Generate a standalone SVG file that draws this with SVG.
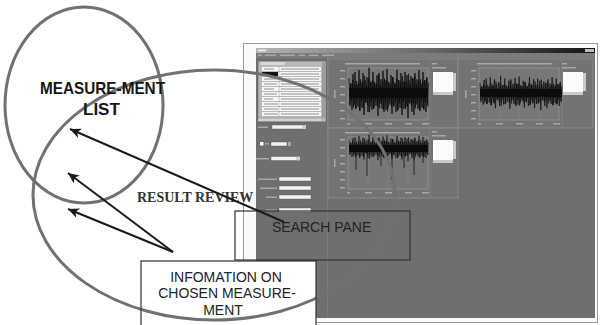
<svg xmlns="http://www.w3.org/2000/svg" xmlns:xlink="http://www.w3.org/1999/xlink" width="600" height="325" viewBox="0 0 600 325">
<defs>
<style>
.ell{fill:none;stroke:#717171;stroke-width:3}
.box{fill:none;stroke:#333;stroke-width:1.2}
.bold{font-family:"Liberation Sans",Arial,sans-serif;font-weight:bold;font-size:17px;fill:#151515}
.serif{font-family:"Liberation Serif","Times New Roman",serif;font-weight:bold;font-size:14px;fill:#333}
.lbl{font-family:"Liberation Sans",Arial,sans-serif;font-size:14px;fill:#222}
.conn{stroke:#1a1a1a;stroke-width:2;fill:none;marker-end:url(#ah)}
.panel{fill:#737376;stroke:#8e8e90;stroke-width:0.8}
.plot{fill:#77777a;stroke:#a0a0a2;stroke-width:0.6}
.field{fill:#f2f2f2;stroke:#555;stroke-width:0.4}
.wave{fill:none;stroke:#0c0c0c;stroke-width:0.8}
.tiny{fill:#a8a8aa}
</style>
<linearGradient id="tb" x1="0" y1="0" x2="1" y2="0">
<stop offset="0" stop-color="#b4b4b4"/>
<stop offset="0.5" stop-color="#6a6a6a"/>
<stop offset="1" stop-color="#141414"/>
</linearGradient>
<marker id="ah" markerUnits="userSpaceOnUse" markerWidth="12" markerHeight="12" refX="11" refY="5" orient="auto" viewBox="0 0 12 10">
<path d="M11,5 L0,0 L3,5 L0,10 Z" fill="#1a1a1a"/>
</marker>
<path id="wave" class="wave" d="M0,-14 L1,12 L2,-9 L3,16 L4,-18 L5,11 L6,-20 L7,15 L8,-8 L9,13 L10,-22 L11,17 L12,-10 L13,14 L14,-19 L15,21 L16,-12 L17,9 L18,-15 L19,18 L20,-24 L21,13 L22,-11 L23,16 L24,-20 L25,14 L26,-9 L27,12 L28,-17 L29,22 L30,-19 L31,10 L32,-13 L33,15 L34,-21 L35,18 L36,-12 L37,16 L38,-23 L39,14 L40,-10 L41,11 L42,-17 L43,20 L44,-15 L45,13 L46,-9 L47,18 L48,-22 L49,16 L50,-12 L51,14 L52,-19 L53,21 L54,-11 L55,15 L56,-20 L57,13 L58,-17 L59,24 L60,-12 L61,10 L62,-16 L63,18 L64,-14 L65,21 L66,-19 L67,11 L68,-13 L69,15 L70,-22 L71,17 L72,-9 L73,14 L74,-20 L75,16 L76,-12 L77,18 L78,-15 L79,13"/>
<g id="plotbox">
<rect class="plot" x="0" y="0" width="80" height="52"/>
<path d="M20,0 V52 M40,0 V52 M60,0 V52" stroke="#8a8a8c" stroke-width="0.5"/>
<rect class="tiny" x="-8" y="2" width="5" height="1.5"/>
<rect class="tiny" x="-8" y="10" width="5" height="1.5"/>
<rect class="tiny" x="-8" y="18" width="5" height="1.5"/>
<rect class="tiny" x="-8" y="26" width="5" height="1.5"/>
<rect class="tiny" x="-8" y="34" width="5" height="1.5"/>
<rect class="tiny" x="-8" y="42" width="5" height="1.5"/>
<rect class="tiny" x="-8" y="50" width="5" height="1.5"/>
<rect class="tiny" x="-1" y="55" width="3" height="1.5"/>
<rect class="tiny" x="17" y="55" width="7" height="1.5"/>
<rect class="tiny" x="37" y="55" width="7" height="1.5"/>
<rect class="tiny" x="57" y="55" width="7" height="1.5"/>
<rect class="tiny" x="74" y="55" width="7" height="1.5"/>
<rect class="tiny" x="-14" y="22" width="1.5" height="8"/>
</g>
<g id="legend">
<rect x="0" y="0" width="20" height="20" fill="#fbfbfb"/>
<rect x="20" y="1" width="3" height="18" fill="#c9c9c9"/>
<rect x="0" y="20" width="20" height="3" fill="#c9c9c9"/>
<rect x="-1" y="-9" width="5" height="1.5" class="tiny"/>
<rect x="-1" y="-5" width="14" height="1.5" class="tiny"/>
</g>
</defs>
<rect width="600" height="325" fill="#ffffff"/>

<g id="screenshot">
<rect x="243.5" y="43.5" width="354" height="279" fill="#fafafa" stroke="#9a9a9a" stroke-width="1"/>
<rect x="256" y="48" width="339" height="270" fill="#6f6f72"/>
<rect x="256" y="48" width="339" height="5" fill="url(#tb)"/>
<rect x="258" y="49.5" width="8" height="2" fill="#e8e8e8"/>
<rect x="585" y="49" width="9" height="3" fill="#bdbdbd"/>
<rect x="256" y="53" width="339" height="5" fill="#7b7b7e"/>
<g class="tiny"><rect x="258" y="54.5" width="4" height="1.5"/><rect x="265" y="54.5" width="11" height="1.5"/><rect x="280" y="54.5" width="15" height="1.5"/><rect x="299" y="54.5" width="6" height="1.5"/><rect x="309" y="54.5" width="9" height="1.5"/><rect x="322" y="54.5" width="12" height="1.5"/></g>
<rect x="258" y="61" width="68" height="61" fill="#b9b9bb" stroke="#555" stroke-width="0.5"/>
<rect x="261" y="62" width="24" height="3" fill="#d8d8d8"/>
<rect x="322" y="62" width="3" height="56" fill="#9b9b9d"/>
<g fill="#f6f6f6">
<rect x="262" y="67" width="59" height="4"/><rect x="262" y="72" width="59" height="4"/><rect x="262" y="77" width="59" height="4"/>
<rect x="262" y="82" width="59" height="4"/><rect x="262" y="87" width="59" height="4"/><rect x="262" y="92" width="59" height="4"/>
<rect x="262" y="97" width="59" height="4"/><rect x="262" y="102" width="59" height="4"/><rect x="262" y="107" width="59" height="4"/>
<rect x="262" y="112" width="59" height="4"/>
</g>
<rect x="262" y="72" width="16" height="4" fill="#111"/>
<path d="M279,67 V116" stroke="#888" stroke-width="0.4"/>
<g fill="#8d8d8f">
<rect x="264" y="68.5" width="10" height="1"/><rect x="281" y="68.5" width="38" height="1"/>
<rect x="281" y="73.5" width="38" height="1"/><rect x="264" y="78.5" width="12" height="1"/><rect x="281" y="78.5" width="38" height="1"/>
<rect x="264" y="83.5" width="13" height="1"/><rect x="281" y="83.5" width="38" height="1"/><rect x="264" y="88.5" width="10" height="1"/><rect x="281" y="88.5" width="38" height="1"/>
<rect x="264" y="93.5" width="13" height="1"/><rect x="281" y="93.5" width="38" height="1"/><rect x="264" y="98.5" width="9" height="1"/><rect x="281" y="98.5" width="38" height="1"/>
<rect x="264" y="103.5" width="14" height="1"/><rect x="281" y="103.5" width="38" height="1"/><rect x="264" y="108.5" width="14" height="1"/><rect x="281" y="108.5" width="38" height="1"/>
<rect x="264" y="113.5" width="14" height="1"/><rect x="281" y="113.5" width="38" height="1"/>
</g>
<rect x="258" y="118" width="64" height="3.5" fill="#d0d0d0" stroke="#555" stroke-width="0.3"/>
<path d="M327.5,58 V318" stroke="#7f7f82" stroke-width="0.8"/>
<rect class="tiny" x="258" y="126.5" width="10" height="1.5"/>
<rect class="field" x="272" y="125" width="31" height="4"/><rect x="303" y="125" width="3" height="4" fill="#ccc"/>
<rect x="260" y="142" width="3.5" height="3.5" fill="#fff"/>
<rect class="tiny" x="265" y="143" width="4" height="1.5"/>
<rect class="field" x="271" y="142" width="16" height="4"/><rect x="288" y="142" width="3" height="4" fill="#aaa"/>
<rect class="tiny" x="256" y="158" width="13" height="1.5"/>
<rect class="field" x="271" y="156.5" width="26" height="4"/><rect x="297" y="156.5" width="3" height="4" fill="#ccc"/>
<rect class="tiny" x="258" y="178.5" width="19" height="1.5"/>
<rect class="field" x="279" y="177" width="32" height="4"/>
<rect class="tiny" x="260" y="187.5" width="17" height="1.5"/>
<rect class="field" x="279" y="186" width="32" height="4"/>
<rect class="tiny" x="266" y="196.5" width="11" height="1.5"/>
<rect class="field" x="279" y="195" width="32" height="4"/>
<rect class="tiny" x="266" y="209.5" width="11" height="1.5"/>
<rect class="field" x="279" y="208" width="32" height="4"/>
<rect class="panel" x="328" y="59" width="130" height="69"/>
<rect class="panel" x="458" y="59" width="135" height="69"/>
<rect class="panel" x="328" y="128" width="130" height="70"/>
<path d="M430,60 V127 M562,60 V127 M430,129 V197" stroke="#8a8a8c" stroke-width="0.6"/>
<rect class="tiny" x="345" y="63" width="75" height="1.5"/>
<rect class="tiny" x="477" y="63" width="75" height="1.5"/>
<rect class="tiny" x="345" y="132" width="75" height="1.5"/>
<use xlink:href="#plotbox" x="348" y="68"/>
<use xlink:href="#plotbox" x="479" y="68"/>
<use xlink:href="#plotbox" x="348" y="137"/>
<rect x="349" y="88" width="79" height="10" fill="#0c0c0c"/>
<use xlink:href="#wave" transform="translate(349,93) scale(1,1.05)"/>
<use xlink:href="#wave" transform="translate(349.5,93) scale(1,-0.8)"/>
<rect x="480" y="89" width="82" height="8" fill="#0c0c0c"/>
<use xlink:href="#wave" transform="translate(480,93) scale(1.03,0.72)"/>
<use xlink:href="#wave" transform="translate(480.5,93) scale(1.03,-0.55)"/>
<rect x="349" y="145" width="79" height="7" fill="#0c0c0c"/>
<use xlink:href="#wave" transform="translate(349,148) scale(1,0.55)"/>
<use xlink:href="#wave" transform="translate(349.5,148) scale(1,-0.45)"/>
<path d="M356,150 V170 M367,150 V176 M381,150 V166 M392,150 V180 M404,150 V168 M414,150 V175 M423,150 V163" stroke="#111" stroke-width="0.8"/>
<use xlink:href="#legend" x="433" y="72"/>
<use xlink:href="#legend" x="563" y="72"/>
<use xlink:href="#legend" x="433" y="140"/>
</g>

<g id="info-box-fill">
<rect x="141" y="261" width="175" height="66" fill="#ffffff"/>
</g>

<g id="measurement-list">
<ellipse class="ell" cx="84" cy="105" rx="79" ry="98"/>
</g>
<g id="result-review">
<ellipse class="ell" cx="214" cy="195" rx="181" ry="125"/>
</g>

<g id="search-pane">
<rect class="box" x="235" y="211" width="175" height="49"/>
<text class="lbl" x="272" y="232">SEARCH PANE</text>
</g>
<g id="info">
<rect class="box" x="141" y="261" width="175" height="66"/>
<text class="lbl" x="226" y="282" text-anchor="middle">INFOMATION ON</text>
<text class="lbl" x="227" y="298" text-anchor="middle">CHOSEN MEASURE-</text>
<text class="lbl" x="223" y="315" text-anchor="middle">MENT</text>
</g>
<g id="labels">
<text class="bold" x="40" y="94" textLength="125" lengthAdjust="spacingAndGlyphs">MEASURE-MENT</text>
<text class="bold" x="83" y="115">LIST</text>
<text class="serif" x="137" y="202">RESULT REVIEW</text>
</g>

<g id="connectors">
<line class="conn" x1="284" y1="222" x2="70" y2="129"/>
<line class="conn" x1="173" y1="252" x2="68" y2="173"/>
<line class="conn" x1="173" y1="252" x2="68" y2="209"/>
</g>
</svg>
